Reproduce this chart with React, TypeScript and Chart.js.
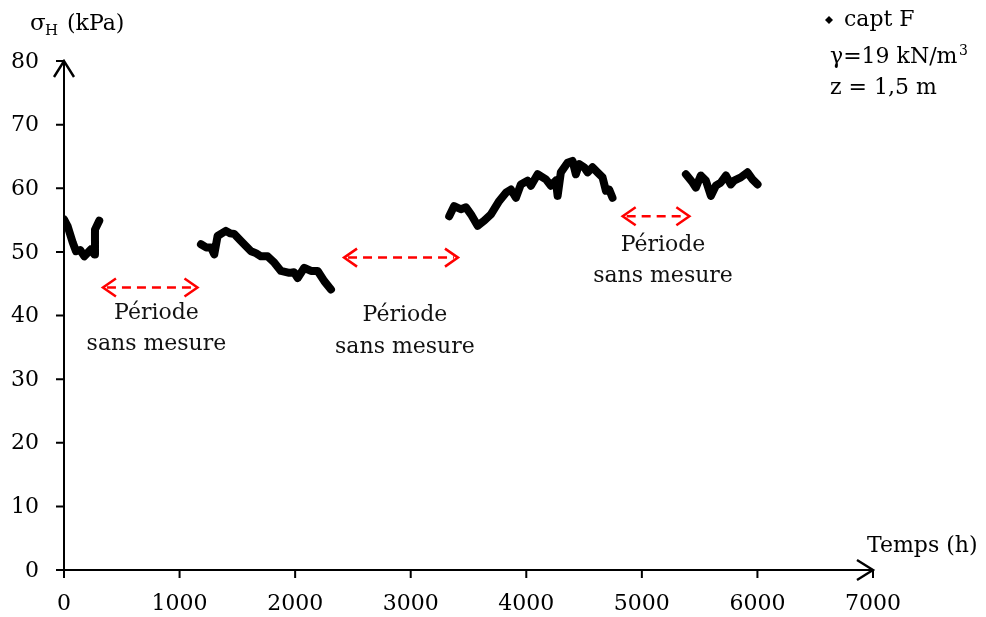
import React, { useEffect, useRef } from "react";
import { Chart, registerables } from "chart.js";

Chart.register(...registerables);

// ---- Data (time in hours, horizontal stress in kPa) ----
const seg1Time = [0, 32, 75, 104, 140, 176, 234, 262, 268, 305];
const seg1Stress = [55.1, 54.0, 51.5, 50.1, 50.3, 49.3, 50.4, 49.6, 53.5, 54.9];

const seg2Time = [1185, 1230, 1272, 1300, 1329, 1365, 1401, 1440, 1473, 1531, 1618, 1660, 1704, 1762, 1820, 1877, 1949, 1990, 2022, 2079, 2137, 2195, 2252, 2310];
const seg2Stress = [51.2, 50.7, 50.7, 49.6, 52.5, 52.9, 53.3, 52.9, 52.8, 51.7, 50.1, 49.8, 49.3, 49.3, 48.3, 47.0, 46.7, 46.8, 45.9, 47.5, 47.0, 47.0, 45.4, 44.1];

const seg3Time = [3333, 3376, 3434, 3478, 3521, 3579, 3636, 3694, 3766, 3824, 3867, 3910, 3953, 4011, 4040, 4098, 4170, 4213, 4256, 4271, 4299, 4357, 4400, 4429, 4458, 4501, 4530, 4573, 4616, 4660, 4689, 4717, 4746];
const seg3Stress = [55.6, 57.2, 56.7, 57.0, 55.9, 54.1, 54.9, 55.9, 58.0, 59.3, 59.8, 58.5, 60.6, 61.2, 60.4, 62.2, 61.4, 60.4, 61.2, 58.8, 62.5, 64.0, 64.3, 62.2, 63.8, 63.3, 62.5, 63.3, 62.5, 61.7, 59.6, 59.8, 58.5];

const seg4Time = [5381, 5439, 5467, 5510, 5554, 5597, 5640, 5683, 5727, 5770, 5798, 5856, 5914, 5957, 6001];
const seg4Stress = [62.2, 60.9, 60.1, 62.0, 61.2, 58.8, 60.4, 60.9, 62.0, 60.6, 61.2, 61.7, 62.5, 61.4, 60.6];

const xTicks = [0, 1000, 2000, 3000, 4000, 5000, 6000, 7000];
const yTicks = [0, 10, 20, 30, 40, 50, 60, 70, 80];

// "Période sans mesure" gaps
const gapStart = [337, 2423, 4834];
const gapEnd = [1155, 3409, 5411];
const gapLevel = [44.4, 49.1, 55.6];
const noteX = [800, 2950, 5183];
const noteY1 = [40.4, 40.0, 51.0];
const noteY2 = [35.4, 35.0, 46.1];

const seriesName = "capt F";
const FONT = "'DejaVu Serif', 'Liberation Serif', serif";

function pts(t: number[], s: number[]) {
  return t.map((x, i) => ({ x, y: s[i] }));
}

const decorPlugin = {
  id: "decor",
  beforeDatasetsDraw(chart: any) {
    const { ctx, scales } = chart;
    const xs = scales.x;
    const ys = scales.y;
    const x0 = xs.getPixelForValue(0);
    const xEnd = xs.getPixelForValue(7000);
    const y0 = ys.getPixelForValue(0);
    const yTop = ys.getPixelForValue(80);
    ctx.save();
    ctx.strokeStyle = "#000";
    ctx.lineWidth = 2;
    ctx.lineCap = "butt";
    // axes lines
    ctx.beginPath();
    ctx.moveTo(x0, y0);
    ctx.lineTo(x0, yTop);
    ctx.moveTo(x0, y0);
    ctx.lineTo(xEnd, y0);
    ctx.stroke();
    // arrowheads
    ctx.lineWidth = 2.4;
    ctx.beginPath();
    ctx.moveTo(x0 - 10, yTop + 16);
    ctx.lineTo(x0, yTop);
    ctx.lineTo(x0 + 10, yTop + 16);
    ctx.moveTo(xEnd - 16, y0 - 10);
    ctx.lineTo(xEnd, y0);
    ctx.lineTo(xEnd - 16, y0 + 10);
    ctx.stroke();
    // ticks
    ctx.lineWidth = 2;
    ctx.beginPath();
    yTicks.forEach((v) => {
      const py = ys.getPixelForValue(v);
      ctx.moveTo(x0 - 8, py);
      ctx.lineTo(x0, py);
    });
    xTicks.forEach((v) => {
      const px = xs.getPixelForValue(v);
      ctx.moveTo(px, y0);
      ctx.lineTo(px, y0 + 8);
    });
    ctx.stroke();
    // tick labels
    ctx.fillStyle = "#000";
    ctx.font = `22px ${FONT}`;
    ctx.textAlign = "right";
    ctx.textBaseline = "middle";
    yTicks.forEach((v) => {
      ctx.fillText(String(v), x0 - 25, ys.getPixelForValue(v) + 1);
    });
    ctx.textAlign = "center";
    xTicks.forEach((v) => {
      ctx.fillText(String(v), xs.getPixelForValue(v), y0 + 34);
    });
    // axis titles
    ctx.textAlign = "left";
    ctx.fillText("Temps (h)", 867, 546);
    ctx.font = `23px ${FONT}`;
    ctx.fillText("\u03c3", 30, 24);
    ctx.font = `15px ${FONT}`;
    ctx.fillText("H", 45, 31);
    ctx.font = `22px ${FONT}`;
    ctx.fillText("(kPa)", 67, 24);
    ctx.restore();
  },
  afterDraw(chart: any) {
    const { ctx, scales } = chart;
    const xs = scales.x;
    const ys = scales.y;
    ctx.save();
    // gap arrows
    ctx.strokeStyle = "#ff0000";
    ctx.lineWidth = 2.5;
    gapStart.forEach((s, i) => {
      const a = xs.getPixelForValue(s);
      const b = xs.getPixelForValue(gapEnd[i]);
      const py = ys.getPixelForValue(gapLevel[i]);
      ctx.setLineDash([9, 6]);
      ctx.beginPath();
      ctx.moveTo(a + 4, py);
      ctx.lineTo(b - 4, py);
      ctx.stroke();
      ctx.setLineDash([]);
      ctx.beginPath();
      ctx.moveTo(a + 13, py - 9);
      ctx.lineTo(a, py);
      ctx.lineTo(a + 13, py + 9);
      ctx.moveTo(b - 13, py - 9);
      ctx.lineTo(b, py);
      ctx.lineTo(b - 13, py + 9);
      ctx.stroke();
    });
    // notes
    ctx.fillStyle = "#111";
    ctx.font = `22px ${FONT}`;
    ctx.textAlign = "center";
    ctx.textBaseline = "middle";
    noteX.forEach((nx, i) => {
      const px = xs.getPixelForValue(nx);
      ctx.fillText("P\u00e9riode", px, ys.getPixelForValue(noteY1[i]));
      ctx.fillText("sans mesure", px, ys.getPixelForValue(noteY2[i]));
    });
    // legend + info
    ctx.fillStyle = "#000";
    ctx.beginPath();
    ctx.moveTo(829, 16);
    ctx.lineTo(833, 20);
    ctx.lineTo(829, 24);
    ctx.lineTo(825, 20);
    ctx.closePath();
    ctx.fill();
    ctx.textAlign = "left";
    ctx.fillText(seriesName, 844, 20);
    ctx.fillText("\u03b3=19 kN/m", 830, 57);
    ctx.font = `14px ${FONT}`;
    ctx.fillText("3", 959, 51);
    ctx.font = `22px ${FONT}`;
    ctx.fillText("z = 1,5 m", 830, 88);
    ctx.restore();
  },
};

export default function App() {
  const ref = useRef<HTMLCanvasElement | null>(null);
  useEffect(() => {
    if (!ref.current) return;
    const mk = (t: number[], s: number[]) => ({
      label: seriesName,
      data: pts(t, s),
      showLine: true,
      borderColor: "#000",
      backgroundColor: "#000",
      borderWidth: 8,
      pointRadius: 0,
      borderCapStyle: "round" as const,
      borderJoinStyle: "round" as const,
      tension: 0,
    });
    const chart = new Chart(ref.current, {
      type: "scatter",
      data: {
        datasets: [
          mk(seg1Time, seg1Stress),
          mk(seg2Time, seg2Stress),
          mk(seg3Time, seg3Stress),
          mk(seg4Time, seg4Stress),
        ],
      },
      options: {
        responsive: false,
        animation: false,
        devicePixelRatio: 1,
        layout: { padding: { left: 64, right: 113, top: 61, bottom: 47 } },
        plugins: { legend: { display: false }, tooltip: { enabled: false } },
        scales: {
          x: { type: "linear", min: 0, max: 7000, display: false },
          y: { type: "linear", min: 0, max: 80, display: false },
        },
      },
      plugins: [decorPlugin],
    });
    return () => chart.destroy();
  }, []);
  return (
    <div style={{ position: "absolute", left: 0, top: 0, width: 986, height: 617, background: "#fff" }}>
      <canvas ref={ref} width={986} height={617} />
    </div>
  );
}
